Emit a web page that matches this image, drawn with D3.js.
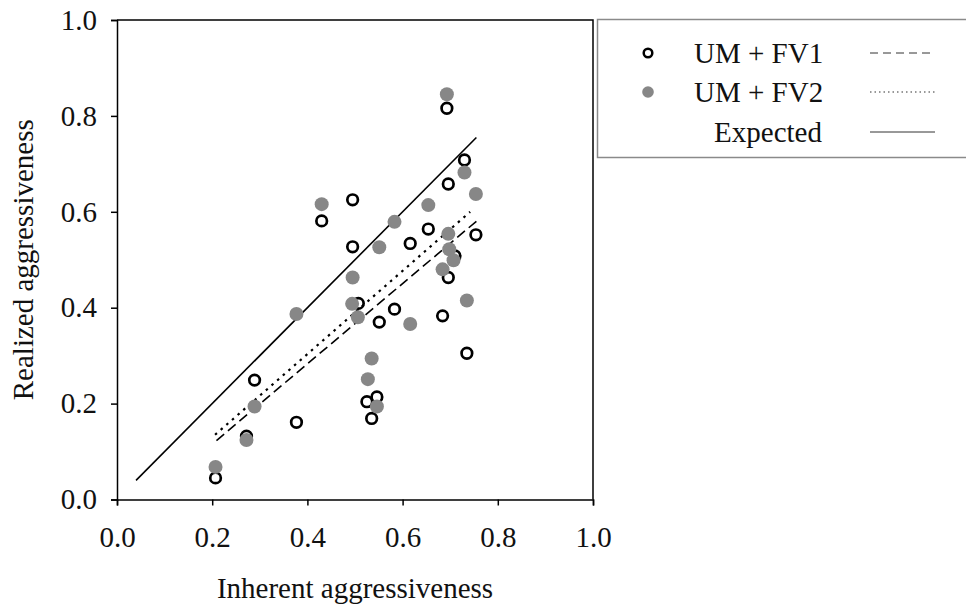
<!DOCTYPE html>
<html>
<head>
<meta charset="utf-8">
<script src="https://cdn.jsdelivr.net/npm/d3@7"></script>
<style>
  html, body { margin: 0; padding: 0; background: #fff; }
  svg { display: block; }
</style>
</head>
<body>
<svg id="chart" width="966" height="604"></svg>
<script>
// Inherent vs realized aggressiveness for the two fungicide-virus combinations
const fv1Inherent = [0.207, 0.272, 0.289, 0.377, 0.430, 0.495, 0.495, 0.507, 0.551, 0.525, 0.546, 0.535,
                     0.583, 0.616, 0.654, 0.693, 0.696, 0.730, 0.754, 0.684, 0.696, 0.710, 0.735];
const fv1Realized = [0.045, 0.132, 0.249, 0.161, 0.581, 0.625, 0.527, 0.409, 0.370, 0.204, 0.214, 0.169,
                     0.397, 0.534, 0.564, 0.816, 0.658, 0.708, 0.552, 0.383, 0.463, 0.508, 0.305];

const fv2Inherent = [0.207, 0.272, 0.289, 0.377, 0.430, 0.495, 0.494, 0.506, 0.551, 0.535, 0.527, 0.546,
                     0.583, 0.616, 0.654, 0.693, 0.730, 0.754, 0.696, 0.698, 0.707, 0.684, 0.735];
const fv2Realized = [0.068, 0.124, 0.194, 0.387, 0.616, 0.463, 0.408, 0.380, 0.526, 0.294, 0.251, 0.194,
                     0.579, 0.366, 0.614, 0.845, 0.682, 0.637, 0.554, 0.522, 0.499, 0.480, 0.415];

// Fitted lines (x range and predicted y at both ends)
const fv1FitX = [0.209, 0.756];
const fv1FitY = [0.123, 0.581];
const fv2FitX = [0.206, 0.742];
const fv2FitY = [0.135, 0.600];
const expectedX = [0.040, 0.755];
const expectedY = [0.040, 0.755];

const tickValues = [0.0, 0.2, 0.4, 0.6, 0.8, 1.0];
const legendLabels = ["UM + FV1", "UM + FV2", "Expected"];
const axisTitles = { x: "Inherent aggressiveness", y: "Realized aggressiveness" };

const FONT = "'Liberation Serif', 'Times New Roman', serif";
const svg = d3.select("#chart").attr("font-family", FONT);
const margin = { left: 117, top: 20 };
const plotW = 476, plotH = 479.5;

const x = d3.scaleLinear().domain([0, 1]).range([margin.left, margin.left + plotW]);
const y = d3.scaleLinear().domain([0, 1]).range([margin.top + plotH, margin.top]);

const fmt = d3.format(".1f");

// Axes
const xAxis = svg.append("g")
  .attr("transform", `translate(0,${margin.top + plotH})`)
  .call(d3.axisBottom(x).tickValues(tickValues).tickFormat(fmt).tickSizeOuter(0).tickSize(6).tickPadding(21));
const yAxis = svg.append("g")
  .attr("transform", `translate(${margin.left},0)`)
  .call(d3.axisLeft(y).tickValues(tickValues).tickFormat(fmt).tickSizeOuter(0).tickSize(6).tickPadding(14));

[xAxis, yAxis].forEach(g => {
  g.attr("font-family", FONT).attr("font-size", 29);
  g.selectAll(".domain").attr("stroke", "#000").attr("stroke-width", 1.5);
  g.selectAll(".tick line").attr("stroke", "#000").attr("stroke-width", 1.5);
  g.selectAll(".tick text").attr("fill", "#111");
});

// Frame top and right
svg.append("path")
  .attr("d", `M${x(0)},${y(1)}H${x(1)}V${y(0)}`)
  .attr("fill", "none").attr("stroke", "#000").attr("stroke-width", 1.5);

// Axis titles
svg.append("text")
  .attr("x", (x(0) + x(1)) / 2).attr("y", 598)
  .attr("text-anchor", "middle")
  .attr("font-size", 29).attr("fill", "#111")
  .text(axisTitles.x);
svg.append("text")
  .attr("transform", `translate(33,${(y(0) + y(1)) / 2}) rotate(-90)`)
  .attr("text-anchor", "middle")
  .attr("font-size", 29).attr("fill", "#111")
  .text(axisTitles.y);

// Lines
const line = d3.line().x(d => x(d[0])).y(d => y(d[1]));
const fits = [
  { xs: expectedX, ys: expectedY, dash: null, w: 1.6 },
  { xs: fv1FitX, ys: fv1FitY, dash: "10,5", w: 1.6 },
  { xs: fv2FitX, ys: fv2FitY, dash: "2.5,5", w: 2.2 }
];
fits.forEach(f => {
  svg.append("path")
    .attr("d", line(d3.zip(f.xs, f.ys)))
    .attr("fill", "none").attr("stroke", "#000").attr("stroke-width", f.w)
    .attr("stroke-dasharray", f.dash);
});

// Points: open circles first, grey dots on top
svg.append("g").selectAll("circle")
  .data(d3.zip(fv1Inherent, fv1Realized))
  .join("circle")
  .attr("cx", d => x(d[0])).attr("cy", d => y(d[1]))
  .attr("r", 5.3)
  .attr("fill", "none").attr("stroke", "#000").attr("stroke-width", 2.7);

svg.append("g").selectAll("circle")
  .data(d3.zip(fv2Inherent, fv2Realized))
  .join("circle")
  .attr("cx", d => x(d[0])).attr("cy", d => y(d[1]))
  .attr("r", 7)
  .attr("fill", "#878787");

// Legend
const leg = svg.append("g");
leg.append("rect")
  .attr("x", 597.5).attr("y", 19.5).attr("width", 380).attr("height", 138)
  .attr("fill", "#fff").attr("stroke", "#8a8a8a").attr("stroke-width", 1.5);

const rowY = [53, 92, 132];
leg.append("circle").attr("cx", 648).attr("cy", rowY[0]).attr("r", 4.3)
  .attr("fill", "none").attr("stroke", "#000").attr("stroke-width", 2.5);
leg.append("circle").attr("cx", 648).attr("cy", rowY[1]).attr("r", 5.8)
  .attr("fill", "#878787");

leg.selectAll("text.lab")
  .data(legendLabels)
  .join("text")
  .attr("class", "lab")
  .attr("x", (d, i) => i < 2 ? 694 : 822)
  .attr("y", (d, i) => rowY[i])
  .attr("dy", "0.35em")
  .attr("text-anchor", (d, i) => i < 2 ? "start" : "end")
  .attr("font-size", 29).attr("fill", "#111")
  .text(d => d);

const legDash = ["8,5", "1.5,3", null];
legDash.forEach((dsh, i) => {
  leg.append("line")
    .attr("x1", 870).attr("x2", 935)
    .attr("y1", rowY[i]).attr("y2", rowY[i])
    .attr("stroke", "#333").attr("stroke-width", i === 1 ? 1.2 : 1)
    .attr("stroke-dasharray", dsh);
});
</script>
</body>
</html>
